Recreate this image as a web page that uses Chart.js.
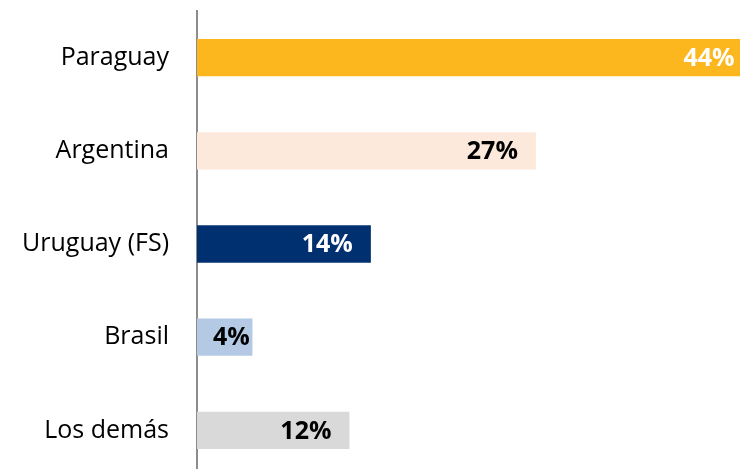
<!DOCTYPE html>
<html>
<head>
<meta charset="utf-8">
<script src="https://cdn.jsdelivr.net/npm/chart.js@4.4.1/dist/chart.umd.min.js"></script>
<style>
  html, body { margin: 0; padding: 0; background: #fff; overflow: hidden; }
  #wrap { position: relative; width: 740px; height: 477px; }
</style>
</head>
<body>
<div id="wrap"><canvas id="shareChart"></canvas></div>
<script>
const countries = ['Paraguay', 'Argentina', 'Uruguay (FS)', 'Brasil', 'Los demás'];
const shares = [44.1, 26.9, 13.8, 4.4, 12.1];
const shareLabels = ['44%', '27%', '14%', '4%', '12%'];

const barColors = ['#FDB71E', '#FCE9DB', '#003070', '#B4C9E4', '#D9D9D9'];
const labelColors = ['#FFFFFF', '#000000', '#FFFFFF', '#000000', '#000000'];

// draws the value labels near the end of each bar
const endLabels = {
    id: 'endLabels',
    afterDatasetsDraw(chart) {
        const ctx = chart.ctx;
        const meta = chart.getDatasetMeta(0);
        ctx.save();
        ctx.font = 'bold 25px "Open Sans"';
        ctx.textAlign = 'right';
        ctx.textBaseline = 'middle';
        meta.data.forEach((bar, i) => {
            const text = shareLabels[i];
            const w = ctx.measureText(text).width;
            const x = Math.max(bar.x - 18, bar.base + 16 + w);
            ctx.fillStyle = labelColors[i];
            ctx.fillText(text, x, bar.y + 1);
        });
        ctx.restore();
    }
};

new Chart(document.getElementById('shareChart'), {
    type: 'bar',
    data: {
        labels: countries,
        datasets: [{
            data: shares,
            backgroundColor: barColors,
            borderWidth: 0,
            barPercentage: 0.4,
            categoryPercentage: 1,
            clip: false
        }]
    },
    options: {
        indexAxis: 'y',
        responsive: true,
        maintainAspectRatio: false,
        animation: false,
        layout: { padding: { top: 11, right: 0, bottom: 0, left: 0 } },
        plugins: {
            legend: { display: false },
            tooltip: { enabled: false }
        },
        scales: {
            x: {
                display: false,
                min: 0,
                max: 43.1
            },
            y: {
                grid: { display: false, drawTicks: false },
                border: { display: true, color: '#8C8C8C', width: 2 },
                ticks: {
                    color: '#000000',
                    padding: 28,
                    font: { family: '"Open Sans"', size: 25 }
                },
                afterFit(scale) {
                    scale.width = 197;
                    scale.paddingTop = 0;
                    scale.paddingBottom = 0;
                }
            }
        }
    },
    plugins: [endLabels]
});
</script>
</body>
</html>
